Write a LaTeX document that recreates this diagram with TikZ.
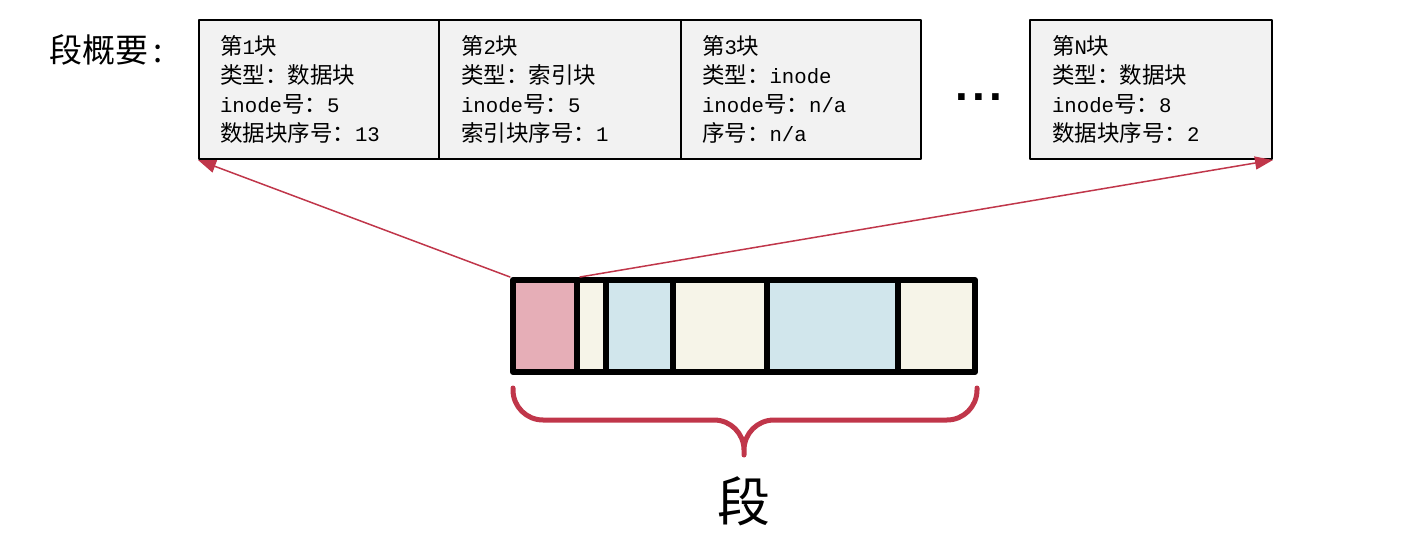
\documentclass[tikz,border=0pt]{standalone}
\usepackage{fontspec}
\setmainfont{Noto Sans CJK SC}
\setmonofont[Scale=0.92]{Liberation Mono}
\newfontfamily\dotfont{Liberation Sans}
\usetikzlibrary{arrows.meta}
\definecolor{blkgray}{HTML}{F2F2F2}
\definecolor{segpink}{HTML}{E6AEB7}
\definecolor{segcream}{HTML}{F6F4E8}
\definecolor{segblue}{HTML}{D1E6EC}
\definecolor{segred}{HTML}{C0364A}
\tikzset{
	blk/.style={draw, line width=2pt, fill=blkgray, anchor=north west,
		minimum width=#1, minimum height=139pt, text width=198pt, inner xsep=21pt,
		align=left, font=\fontsize{22.5}{29}\selectfont},
	cell/.style={draw, line width=6pt, minimum height=92pt, inner sep=0pt},
	link/.style={segred, line width=1.5pt, -{Triangle[length=18pt,width=13pt]}},
}
\begin{document}
\begin{tikzpicture}[x=1pt, y=-1pt, line join=round, line cap=round]
	\useasboundingbox (0,0) rectangle (1403,556);
	\node[anchor=west, inner sep=0pt, font=\fontsize{33}{33}\selectfont] (lbl) at (49,50) {段概要\,:};
	\node[blk=240pt] (b1) at (198,19)
		{第\texttt{1}块\\类型：数据块\\\texttt{inode}号：\texttt{5}\\数据块序号：\texttt{13}};
	\node[blk=242pt] (b2) at (438,19)
		{第\texttt{2}块\\类型：索引块\\\texttt{inode}号：\texttt{5}\\索引块序号：\texttt{1}};
	\node[blk=240pt] (b3) at (680,19)
		{第\texttt{3}块\\类型：\texttt{inode}\\\texttt{inode}号：\texttt{n/a}\\序号：\texttt{n/a}};
	\node[blk=242pt] (bN) at (1029,19)
		{第\texttt{N}块\\类型：数据块\\\texttt{inode}号：\texttt{8}\\数据块序号：\texttt{2}};
	\node[anchor=base, font=\dotfont\bfseries\fontsize{46}{46}\selectfont] (dots) at (979,101)
		{.\kern4pt.\kern4pt.};
	\foreach \n/\x/\w/\c in {
		c1/545/64/segpink,c2/591.5/29/segcream,c3/639.5/67/segblue,
		c4/720/94/segcream,c5/832.5/131/segblue,c6/936.5/77/segcream}
	{
		\node[cell, fill=\c, minimum width=\w pt] (\n) at (\x,326) {};
	}
	\draw[link] (c1.north west) -- (b1.south west);
	\draw[link] (c1.north east) -- (bN.south east);
	\coordinate (bl) at (513,388);
	\coordinate (br) at (977,388);
	\coordinate (tip) at (744,455);
	\draw[segred, line width=5pt, rounded corners=30pt]
		(bl) -- (513,420) -- (744,420) -- (tip)
		(br) -- (977,420) -- (744,420) -- (tip);
	\node[font=\fontsize{53}{53}\selectfont] (seg) at (744,501) {段};
\end{tikzpicture}
\end{document}
